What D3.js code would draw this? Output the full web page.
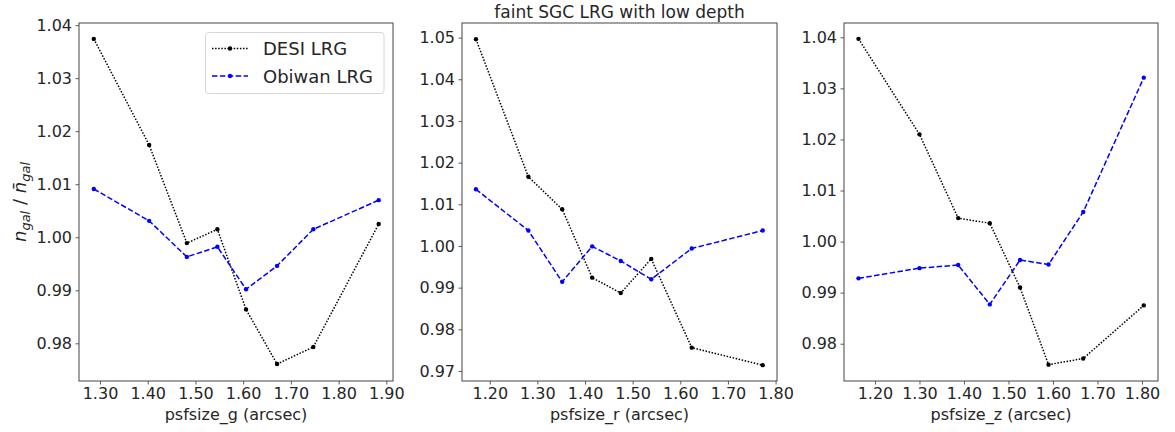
<!DOCTYPE html>
<html>
<head>
<meta charset="utf-8">
<script src="https://cdn.jsdelivr.net/npm/d3@7"></script>
<style>
  body { margin: 0; background: #fff; }
  svg text { font-family: "DejaVu Sans", sans-serif; fill: #262626; }
</style>
</head>
<body>
<div id="chart"></div>
<script>
// psfsize bins (arcsec) and normalised densities
const psf_g = [1.287, 1.403, 1.482, 1.546, 1.606, 1.671, 1.747, 1.884];
const desi_g = [1.0374, 1.0174, 0.9989, 1.0015, 0.9864, 0.9761, 0.9793, 1.0025];
const obiwan_g = [1.0091, 1.0031, 0.9963, 0.9982, 0.9902, 0.9946, 1.0015, 1.0070];

const psf_r = [1.171, 1.281, 1.352, 1.415, 1.475, 1.539, 1.624, 1.773];
const desi_r = [1.0496, 1.0166, 1.0088, 0.9924, 0.9887, 0.9969, 0.9756, 0.9714];
const obiwan_r = [1.0136, 1.0037, 0.9914, 0.9999, 0.9964, 0.9920, 0.9994, 1.0037];

const psf_z = [1.163, 1.300, 1.387, 1.458, 1.526, 1.590, 1.668, 1.804];
const desi_z = [1.0397, 1.0210, 1.0046, 1.0036, 0.9910, 0.9759, 0.9771, 0.9875];
const obiwan_z = [0.9928, 0.9948, 0.9954, 0.9877, 0.9964, 0.9955, 1.0058, 1.0321];

const xticks_g = [1.30, 1.40, 1.50, 1.60, 1.70, 1.80, 1.90];
const xticks_rz = [1.20, 1.30, 1.40, 1.50, 1.60, 1.70, 1.80];
const yticks_g = [0.98, 0.99, 1.00, 1.01, 1.02, 1.03, 1.04];
const yticks_r = [0.97, 0.98, 0.99, 1.00, 1.01, 1.02, 1.03, 1.04, 1.05];
const yticks_z = [0.98, 0.99, 1.00, 1.01, 1.02, 1.03, 1.04];

const series_names = ['DESI LRG', 'Obiwan LRG'];
const title = 'faint SGC LRG with low depth';

const chart_width = 1175;
const chart_height = 432;
const plot_top = 23, plot_bottom = 381;

const panels = [
    { left: 79, right: 393, xd: [1.256, 1.914], yd: [0.9729, 1.0404], x: psf_g, desi: desi_g, obi: obiwan_g, xt: xticks_g, yt: yticks_g, label: 'psfsize_g (arcsec)' },
    { left: 462, right: 777, xd: [1.1417, 1.803], yd: [0.9676, 1.0535], x: psf_r, desi: desi_r, obi: obiwan_r, xt: xticks_rz, yt: yticks_r, label: 'psfsize_r (arcsec)' },
    { left: 844, right: 1158, xd: [1.1304, 1.836], yd: [0.9727, 1.0428], x: psf_z, desi: desi_z, obi: obiwan_z, xt: xticks_rz, yt: yticks_z, label: 'psfsize_z (arcsec)' }
];

const styles = [
    { color: '#000', dash: '1.5,1.6', width: 1.5 },
    { color: '#0000ff', dash: '5.5,2.4', width: 1.5 }
];

const svg = d3.select('#chart')
    .append('svg')
    .attr('width', chart_width)
    .attr('height', chart_height);

const fmt = d3.format('.2f');

panels.forEach((p, pi) => {
    const x_scale = d3.scaleLinear().domain(p.xd).range([p.left, p.right]);
    const y_scale = d3.scaleLinear().domain(p.yd).range([plot_bottom, plot_top]);

    // axes
    const gx = svg.append('g')
        .attr('transform', `translate(0,${plot_bottom})`)
        .call(d3.axisBottom(x_scale).tickValues(p.xt).tickFormat(fmt).tickSize(3.5).tickPadding(3.5));
    const gy = svg.append('g')
        .attr('transform', `translate(${p.left},0)`)
        .call(d3.axisLeft(y_scale).tickValues(p.yt).tickFormat(fmt).tickSize(3.5).tickPadding(3.5));
    [gx, gy].forEach(g => {
        g.select('.domain').remove();
        g.selectAll('line').attr('stroke', '#333').attr('stroke-width', 0.8);
        g.selectAll('text').attr('font-size', 16).attr('fill', '#262626')
            .style('font-family', '"DejaVu Sans", sans-serif');
    });

    // lines and markers
    [p.desi, p.obi].forEach((vals, si) => {
        const st = styles[si];
        const pts = vals.map((v, i) => [x_scale(p.x[i]), y_scale(v)]);
        svg.append('path')
            .attr('d', d3.line()(pts))
            .attr('fill', 'none')
            .attr('stroke', st.color)
            .attr('stroke-width', st.width)
            .attr('stroke-dasharray', st.dash);
        svg.selectAll(null)
            .data(pts)
            .enter()
            .append('circle')
            .attr('cx', d => d[0])
            .attr('cy', d => d[1])
            .attr('r', 2.2)
            .attr('fill', st.color);
    });

    // frame
    svg.append('rect')
        .attr('x', p.left)
        .attr('y', plot_top)
        .attr('width', p.right - p.left)
        .attr('height', plot_bottom - plot_top)
        .attr('fill', 'none')
        .attr('stroke', '#444')
        .attr('stroke-width', 1);

    svg.append('text')
        .attr('x', (p.left + p.right) / 2)
        .attr('y', 420)
        .attr('text-anchor', 'middle')
        .attr('font-size', 16)
        .text(p.label);

    if (pi === 1) {
        svg.append('text')
            .attr('x', (p.left + p.right) / 2)
            .attr('y', 18)
            .attr('text-anchor', 'middle')
            .attr('font-size', 17)
            .text(title);
    }

    if (pi === 0) {
        // legend
        const lg = svg.append('g');
        lg.append('rect')
            .attr('x', 205.5).attr('y', 32.5)
            .attr('width', 178.5).attr('height', 61)
            .attr('rx', 3)
            .attr('fill', '#fff').attr('fill-opacity', 0.8)
            .attr('stroke', '#d6d6d6');
        series_names.forEach((name, si) => {
            const st = styles[si];
            const yy = 48.5 + si * 27.5;
            lg.append('line')
                .attr('x1', 212).attr('x2', 248)
                .attr('y1', yy).attr('y2', yy)
                .attr('stroke', st.color)
                .attr('stroke-width', st.width)
                .attr('stroke-dasharray', st.dash);
            lg.append('circle').attr('cx', 230).attr('cy', yy).attr('r', 2.2).attr('fill', st.color);
            lg.append('text')
                .attr('x', 263).attr('y', yy + 6.5)
                .attr('font-size', 18)
                .text(name);
        });

        // y label: n_gal / n̄_gal
        const yl = svg.append('text')
            .attr('transform', `translate(26,${(plot_top + plot_bottom) / 2}) rotate(-90)`)
            .attr('text-anchor', 'middle')
            .attr('font-size', 18);
        yl.append('tspan').attr('font-style', 'italic').text('n');
        yl.append('tspan').attr('font-style', 'italic').attr('font-size', 13).attr('dy', 4).text('gal');
        yl.append('tspan').attr('dy', -4).text(' / ');
        yl.append('tspan').attr('font-style', 'italic').text('n\u0304');
        yl.append('tspan').attr('font-style', 'italic').attr('font-size', 13).attr('dy', 4).text('gal');
    }
});
</script>
</body>
</html>
